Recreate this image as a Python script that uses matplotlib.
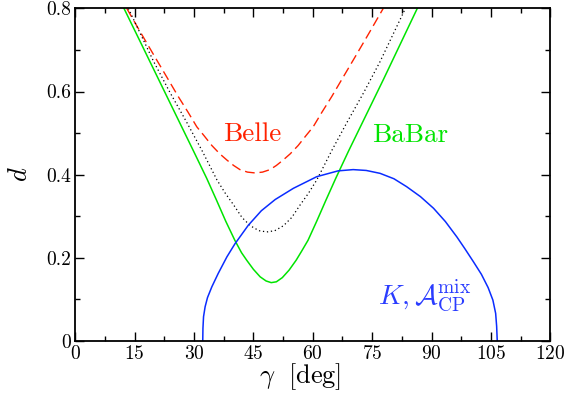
import matplotlib
matplotlib.use("Agg")
import matplotlib.pyplot as plt
from matplotlib.ticker import MultipleLocator, FuncFormatter

# --- data (gamma in deg, d) ---
belle_gamma = [13.0, 16.5, 20.0, 23.1, 26.0, 28.5, 30.7, 32.5, 34.5, 36.5, 38.3, 40.0,
               41.6, 43.5, 45.4, 47.3, 49.2, 50.8, 52.5, 54.3, 56.3, 58.3, 60.1, 62.3,
               64.8, 67.7, 70.8, 74.3, 77.8]
belle_d = [0.800, 0.742, 0.685, 0.635, 0.588, 0.550, 0.515, 0.494, 0.470, 0.450, 0.435, 0.422,
           0.412, 0.406, 0.404, 0.406, 0.412, 0.422, 0.435, 0.450, 0.470, 0.494, 0.515, 0.550,
           0.588, 0.635, 0.685, 0.742, 0.800]

babar_gamma = [12.3, 16.5, 21.0, 25.5, 29.9, 33.2, 35.7, 38.0, 40.3, 42.0, 43.3, 45.0,
               46.7, 48.2, 49.5, 50.8, 52.3, 54.0, 55.8, 57.2, 58.8, 61.0, 63.3, 65.8,
               69.0, 73.4, 77.9, 82.3, 86.4]
babar_d = [0.800, 0.718, 0.630, 0.542, 0.456, 0.391, 0.338, 0.288, 0.242, 0.212, 0.194, 0.172,
           0.154, 0.144, 0.140, 0.142, 0.152, 0.170, 0.194, 0.216, 0.242, 0.288, 0.338, 0.391,
           0.456, 0.542, 0.630, 0.718, 0.800]

comb_gamma = [13.4, 19.8, 23.9, 28.2, 32.0, 35.8, 37.9, 40.0, 42.1, 44.2, 46.4, 48.4,
              50.4, 52.6, 54.7, 56.8, 58.9, 61.0, 64.8, 68.6, 72.9, 77.0, 83.4]
comb_d = [0.800, 0.672, 0.598, 0.525, 0.458, 0.387, 0.355, 0.327, 0.297, 0.277, 0.265, 0.262,
          0.265, 0.277, 0.297, 0.327, 0.355, 0.387, 0.458, 0.525, 0.598, 0.672, 0.800]

kmix_gamma = [32.2, 32.25, 32.4, 32.8, 33.4, 34.5, 36.1, 38.3, 40.3, 43.7, 47.0, 50.5,
              55.1, 61.0, 66.4, 70.2, 73.5, 77.0, 80.5, 83.7, 87.2, 90.5, 93.5, 96.4,
              98.4, 100.6, 102.6, 104.3, 105.5, 106.2, 106.45, 106.6]
kmix_d = [0.000, 0.030, 0.058, 0.082, 0.104, 0.130, 0.162, 0.202, 0.233, 0.278, 0.313, 0.340,
          0.367, 0.395, 0.409, 0.412, 0.410, 0.403, 0.390, 0.371, 0.347, 0.319, 0.287, 0.250,
          0.222, 0.190, 0.160, 0.128, 0.098, 0.066, 0.035, 0.000]

x_ticks = [0, 15, 30, 45, 60, 75, 90, 105, 120]
y_ticks = [0, 0.2, 0.4, 0.6, 0.8]

RED = "#ff2200"
GREEN = "#00e400"
BLUE = "#0a2cff"

plt.rcParams["font.family"] = "cmr10"
plt.rcParams["mathtext.fontset"] = "cm"
plt.rcParams["axes.formatter.use_mathtext"] = True

fig = plt.figure(figsize=(5.67, 4.0), dpi=100)
ax = fig.add_axes([0.1328, 0.148, 0.8377, 0.831])

ax.plot(belle_gamma, belle_d, color=RED, lw=1.0, dashes=(7, 3.5))
ax.plot(comb_gamma, comb_d, color="black", lw=0.9, dashes=(1, 2.2))
ax.plot(babar_gamma, babar_d, color=GREEN, lw=1.1)
ax.plot(kmix_gamma, kmix_d, color=BLUE, lw=1.1)

ax.text(37.4, 0.481, "Belle", color=RED, fontsize=19.5)
ax.text(74.9, 0.479, "BaBar", color=GREEN, fontsize=19.5)
ax.text(76.5, 0.088, r"$K, \mathcal{A}_{\rm CP}^{\rm mix}$", color="#2a3cff", fontsize=20)

ax.set_xlim(0, 120)
ax.set_ylim(0, 0.8)
ax.set_xticks(x_ticks)
ax.set_yticks(y_ticks)
ax.xaxis.set_minor_locator(MultipleLocator(7.5))
ax.yaxis.set_minor_locator(MultipleLocator(0.1))
ax.yaxis.set_major_formatter(FuncFormatter(lambda v, p: "0" if v == 0 else f"{v:.1f}"))
ax.tick_params(which="both", direction="in", top=True, right=True, labelsize=14, pad=3)
ax.tick_params(which="major", length=6.5, width=1.0)
ax.tick_params(which="minor", length=3.4, width=1.0)
for s in ax.spines.values():
    s.set_linewidth(1.3)

ax.set_xlabel(r"$\gamma\ \ [{\rm deg}]$", fontsize=19)
ax.xaxis.set_label_coords(0.474, -0.062)
ax.set_ylabel(r"$d$", fontsize=19)
ax.yaxis.set_label_coords(-0.092, 0.5)

fig.savefig("out.png", dpi=100)
